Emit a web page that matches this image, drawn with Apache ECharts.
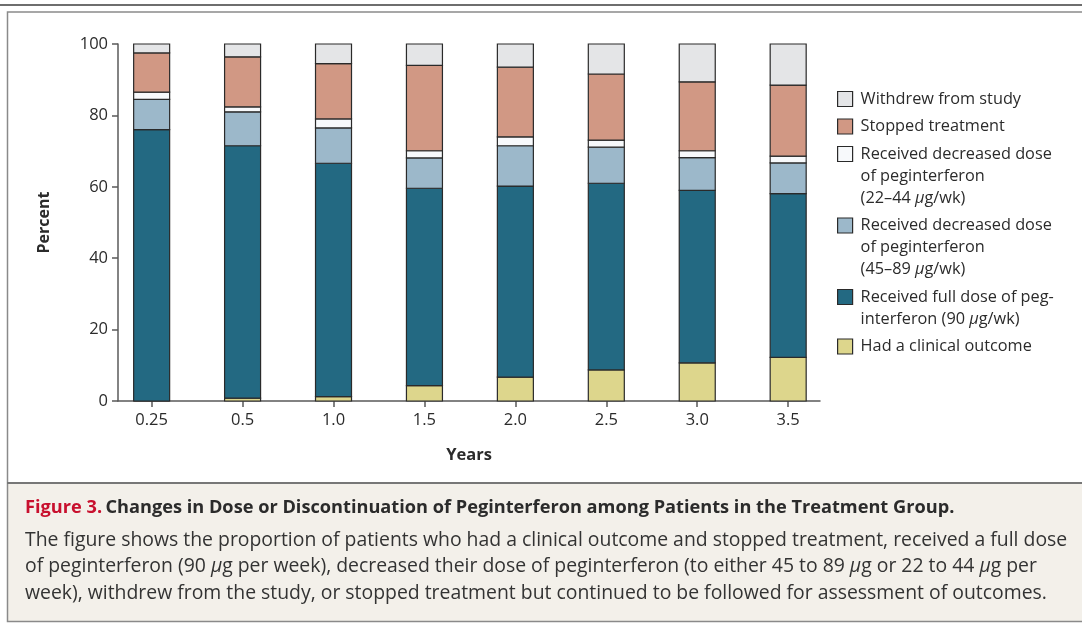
<!DOCTYPE html>
<html>
<head>
<meta charset="utf-8">
<script src="https://cdn.jsdelivr.net/npm/echarts@6/dist/echarts.min.js"></script>
<style>
  html, body { margin: 0; padding: 0; background: #fff; }
  #chart { width: 1082px; height: 625px; }
</style>
</head>
<body>
<div id="chart"></div>
<script>
// years of follow-up, one stacked bar each
const years = ["0.25", "0.5", "1.0", "1.5", "2.0", "2.5", "3.0", "3.5"];

// percent of patients, bottom to top
const clinicalOutcome = [0, 0.8, 1.2, 4.3, 6.7, 8.7, 10.7, 12.2];
const fullDose = [76.0, 70.7, 65.4, 55.3, 53.5, 52.3, 48.3, 45.9];
const dose45to89 = [8.5, 9.5, 9.9, 8.5, 11.3, 10.1, 9.2, 8.6];
const dose22to44 = [2.0, 1.4, 2.5, 2.0, 2.5, 2.0, 1.9, 1.9];
const stoppedTreatment = [11.0, 14.0, 15.5, 23.9, 19.5, 18.5, 19.3, 19.9];
const withdrew = [2.5, 3.6, 5.5, 6.0, 6.5, 8.4, 10.6, 11.5];

const yTicks = [0, 20, 40, 60, 80, 100];

const font = "'Open Sans', 'Noto Sans', sans-serif";
const ink = "#2b2b2b";
const edge = "#2a2a2a";
const axisGray = "#5a5a5a";

// bottom to top; legend lists them top to bottom
const layers = [
	{ name: "Had a clinical outcome", label: "Had a clinical outcome", data: clinicalOutcome, color: "#ddd68c" },
	{ name: "Received full dose", label: "Received full dose of peg-\ninterferon (90 {mu|μ}g/wk)", data: fullDose, color: "#236982" },
	{ name: "Received 45-89", label: "Received decreased dose\nof peginterferon\n(45–89 {mu|μ}g/wk)", data: dose45to89, color: "#9cb8ca" },
	{ name: "Received 22-44", label: "Received decreased dose\nof peginterferon\n(22–44 {mu|μ}g/wk)", data: dose22to44, color: "#f7f9fb" },
	{ name: "Stopped treatment", label: "Stopped treatment", data: stoppedTreatment, color: "#d19884" },
	{ name: "Withdrew from study", label: "Withdrew from study", data: withdrew, color: "#e4e5e7" }
];

// running base of each segment, so every layer sits on the ones below
const bases = years.map(() => 0);
const segments = layers.map(layer => layer.data.map((v, i) => {
	const lo = bases[i];
	bases[i] += v;
	return [i, lo, lo + v];
}));

const legendLine = 22;
const legendGap = 5.5;
const legendFirst = 99;
const legendFont = 16.3;

// one legend per entry so the swatch sits on the first text line
const legends = [];
let lineCenter = legendFirst;
layers.slice().reverse().forEach(layer => {
	const lines = layer.label.split("\n").length;
	const pad = lines - 1;
	const shown = "\n".repeat(pad) + layer.label;
	legends.push({
		data: [layer.name],
		orient: "vertical",
		left: 837,
		top: lineCenter - (pad + 0.5) * legendLine,
		padding: 0,
		icon: "rect",
		itemWidth: 15,
		itemHeight: 15,
		itemGap: 0,
		selectedMode: false,
		formatter: () => shown,
		textStyle: {
			fontFamily: font,
			fontSize: legendFont,
			color: ink,
			lineHeight: legendLine,
			padding: [0, 0, 0, 3],
			rich: { mu: { fontFamily: font, fontSize: legendFont, fontStyle: "italic", color: ink, lineHeight: legendLine } }
		},
		itemStyle: { borderColor: edge, borderWidth: 1.2 }
	});
	lineCenter += lines * legendLine + legendGap;
});

const captionBody =
	"The figure shows the proportion of patients who had a clinical outcome and stopped treatment, received a full dose\n" +
	"of peginterferon (90 {mu|μ}g per week), decreased their dose of peginterferon (to either 45 to 89 {mu|μ}g or 22 to 44 {mu|μ}g per\n" +
	"week), withdrew from the study, or stopped treatment but continued to be followed for assessment of outcomes.";

const bodySize = 19.4;

const chart = echarts.init(document.getElementById("chart"), null, { renderer: "canvas" });

chart.setOption({
	animation: false,
	backgroundColor: "#ffffff",
	textStyle: { fontFamily: font },
	grid: { left: 118, right: 262, top: 44, bottom: 224 },
	legend: legends,
	xAxis: {
		type: "value",
		min: -0.37,
		max: 7.35,
		name: "Years",
		nameLocation: "middle",
		nameGap: 46,
		nameTextStyle: { fontFamily: font, fontSize: 16.5, fontWeight: "bold", color: ink },
		splitLine: { show: false },
		axisLine: { show: true, onZero: false, lineStyle: { color: axisGray, width: 1.5 } },
		axisTick: { show: true, length: 6, lineStyle: { color: axisGray, width: 1.5 }, customValues: years.map((_, i) => i) },
		axisLabel: {
			customValues: years.map((_, i) => i),
			formatter: v => years[Math.round(v)],
			fontFamily: font,
			fontSize: 16.5,
			color: ink,
			margin: 11
		}
	},
	yAxis: {
		type: "value",
		min: yTicks[0],
		max: yTicks[yTicks.length - 1],
		interval: 20,
		name: "Percent",
		nameLocation: "middle",
		nameRotate: 90,
		nameGap: 66,
		nameTextStyle: { fontFamily: font, fontSize: 16, fontWeight: "bold", color: ink },
		splitLine: { show: false },
		axisLine: { show: true, onZero: false, lineStyle: { color: axisGray, width: 1.5 } },
		axisTick: { show: true, length: 6, lineStyle: { color: axisGray, width: 1.5 } },
		axisLabel: { fontFamily: font, fontSize: 16.5, color: ink, margin: 10 }
	},
	series: layers.map((layer, k) => ({
		name: layer.name,
		type: "custom",
		data: segments[k],
		encode: { x: 0, y: [1, 2] },
		itemStyle: { color: layer.color, borderColor: edge, borderWidth: 1.2 },
		emphasis: { disabled: true },
		renderItem: (params, api) => {
			const x = api.value(0);
			const bottom = api.coord([x, api.value(1)]);
			const top = api.coord([x, api.value(2)]);
			const half = 18;
			return {
				type: "rect",
				shape: { x: bottom[0] - half, y: top[1], width: half * 2, height: bottom[1] - top[1] },
				style: { fill: layer.color, stroke: edge, lineWidth: 1.2 }
			};
		}
	})),
	graphic: [
		{ type: "line", z: 10, shape: { x1: 0, y1: 5, x2: 1082, y2: 5 }, style: { stroke: "#6e6e6e", lineWidth: 2 } },
		{ type: "rect", z: -10, shape: { x: 8, y: 483, width: 1080, height: 138 }, style: { fill: "#f3f0ea" } },
		{ type: "rect", z: 10, shape: { x: 7.5, y: 12, width: 1085, height: 609.5 }, style: { fill: null, stroke: "#8a8a8a", lineWidth: 1.5 } },
		{ type: "line", z: 10, shape: { x1: 7, y1: 483, x2: 1082, y2: 483 }, style: { stroke: "#777777", lineWidth: 2 } },
		{
			type: "text",
			z: 10,
			style: {
				x: 25,
				y: 508,
				verticalAlign: "middle",
				text: "{red|Figure 3.} {bold|Changes in Dose or Discontinuation of Peginterferon among Patients in the Treatment Group.}",
				rich: {
					red: { fontFamily: font, fontSize: 18.2, fontWeight: "bold", fill: "#c8102e", color: "#c8102e" },
					bold: { fontFamily: font, fontSize: 18.2, fontWeight: "bold", fill: ink, color: ink }
				}
			}
		},
		{
			type: "text",
			z: 10,
			style: {
				x: 25,
				y: 527,
				verticalAlign: "top",
				text: captionBody,
				font: bodySize + "px " + font,
				fill: "#333333",
				lineHeight: 26.5,
				rich: { mu: { fontFamily: font, fontSize: bodySize, fontStyle: "italic", fill: "#333333", color: "#333333", lineHeight: 26.5 } }
			}
		}
	]
});
</script>
</body>
</html>
